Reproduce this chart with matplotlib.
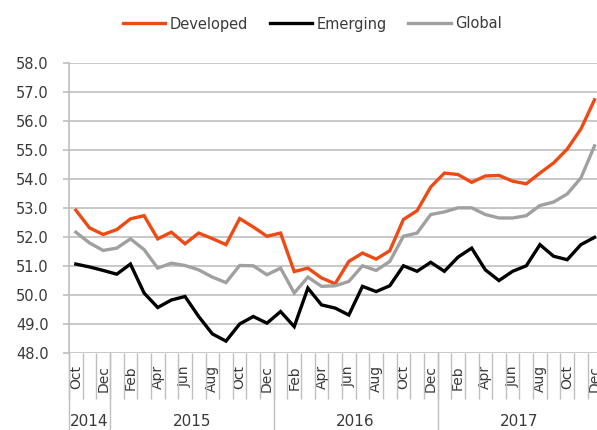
import numpy as np
import matplotlib
matplotlib.use("Agg")
import matplotlib.pyplot as plt
from matplotlib.transforms import blended_transform_factory

months = ["Oct", "Nov", "Dec"] + ["Jan", "Feb", "Mar", "Apr", "May", "Jun",
                                  "Jul", "Aug", "Sep", "Oct", "Nov", "Dec"] * 3
years = ["2014", "2015", "2016", "2017"]
year_counts = [3, 12, 12, 12]

developed = [52.92, 52.31, 52.08, 52.25, 52.62, 52.73, 51.93, 52.16, 51.76, 52.13,
             51.94, 51.73, 52.63, 52.34, 52.02, 52.13, 50.80, 50.92, 50.58, 50.38,
             51.15, 51.44, 51.23, 51.52, 52.60, 52.90, 53.72, 54.20, 54.15, 53.88,
             54.10, 54.12, 53.92, 53.83, 54.20, 54.55, 55.03, 55.72, 56.73]
emerging = [51.06, 50.96, 50.84, 50.71, 51.06, 50.06, 49.56, 49.82, 49.94, 49.25,
            48.65, 48.40, 48.99, 49.25, 49.02, 49.42, 48.90, 50.23, 49.65, 49.54,
            49.30, 50.29, 50.11, 50.31, 51.00, 50.81, 51.12, 50.81, 51.30, 51.61,
            50.86, 50.49, 50.81, 51.00, 51.73, 51.33, 51.21, 51.73, 51.98]
global_ = [52.16, 51.79, 51.53, 51.61, 51.93, 51.56, 50.92, 51.09, 51.01, 50.86,
           50.61, 50.42, 51.01, 51.00, 50.69, 50.92, 50.06, 50.61, 50.29, 50.31,
           50.46, 51.00, 50.84, 51.15, 52.02, 52.13, 52.77, 52.86, 53.00, 53.00,
           52.77, 52.65, 52.65, 52.73, 53.08, 53.20, 53.48, 54.03, 55.14]

series_names = ["Developed", "Emerging", "Global"]
colors = ["#EE4A14", "#000000", "#A0A0A0"]

W, H = 597, 430
fig = plt.figure(figsize=(W / 100, H / 100), dpi=100)
left_px, top_px, bottom_px = 69, 63, 352.7
n = len(months)
month_px = 13.65
width_px = n * month_px
ax = fig.add_axes([left_px / W, 1 - bottom_px / H, width_px / W, (bottom_px - top_px) / H])

x = np.arange(n)
for vals, name, c in zip([developed, emerging, global_], series_names, colors):
    ax.plot(x, vals, color=c, lw=2.4, label=name, solid_joinstyle="miter", zorder=3)

ax.set_xlim(-0.5, n - 0.5)
ax.set_ylim(48, 58)
ax.set_yticks(np.arange(48, 58.1, 1))
ax.set_yticklabels([f"{v:.1f}" for v in np.arange(48, 58.1, 1)])
ax.yaxis.grid(True, color="#BFBFBF", lw=1.2)
ax.set_axisbelow(True)
for s in ["top", "right", "bottom"]:
    ax.spines[s].set_visible(False)
ax.spines["left"].set_color("#BFBFBF")
ax.spines["left"].set_linewidth(1.2)
ax.tick_params(axis="y", length=4.3, width=1.2, color="#BFBFBF", pad=10.5,
               labelsize=10.5, labelcolor="#3A3A3A")

# x labels every other month
major = list(range(0, n, 2))
ax.set_xticks(major)
ax.set_xticklabels([months[i] for i in major], rotation=90)
ax.tick_params(axis="x", which="major", length=0, pad=9, labelsize=10, labelcolor="#3A3A3A")
ax.set_xticks(np.arange(-0.5, n, 1), minor=True)
ax.tick_params(axis="x", which="minor", length=33, width=1.0, color="#BFBFBF")
for lbl in ax.get_xticklabels():
    lbl.set_va("top")

# year separators and labels
trans = blended_transform_factory(ax.transData, fig.transFigure)
bounds = np.concatenate([[0], np.cumsum(year_counts)]) - 0.5
for b in bounds:
    ax.plot([b, b], [1 - bottom_px / H, 0], transform=trans, color="#BFBFBF",
            lw=1.0, clip_on=False)
for i, yr in enumerate(years):
    cx = (bounds[i] + bounds[i + 1]) / 2
    ax.text(cx, 1 - 422 / H, yr, transform=trans, ha="center", va="center",
            fontsize=11, color="#3A3A3A")

fig.legend(loc="center", bbox_to_anchor=(0.523, 1 - 24 / H), ncol=3, frameon=False,
           handlelength=2.9, handletextpad=0.3, columnspacing=1.5, fontsize=10.5,
           labelcolor="#3A3A3A")

fig.savefig("out.png", dpi=100)
